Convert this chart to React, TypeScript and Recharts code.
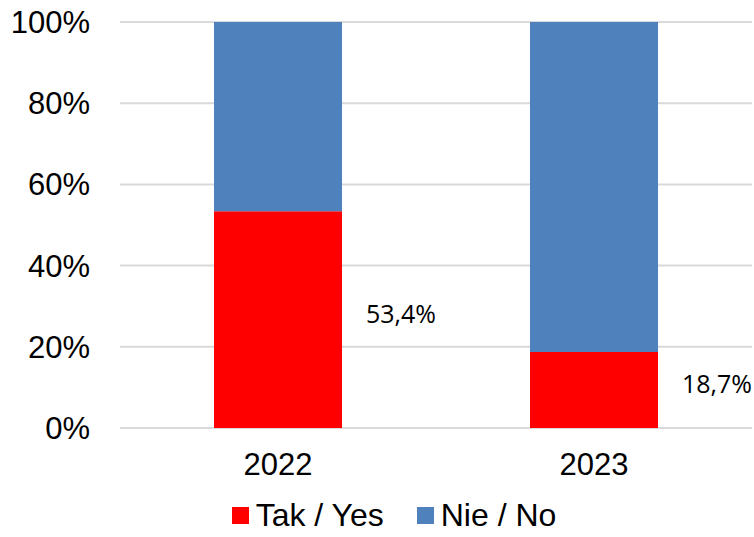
import React from "react";
import {
  BarChart,
  Bar,
  XAxis,
  YAxis,
  CartesianGrid,
  Legend,
  LabelList,
} from "recharts";

document.body.style.margin = "0";

const years = ["2022", "2023"];
const yesShare = [53.4, 18.7];
const noShare = [46.6, 81.3];
const yTicks = [0, 20, 40, 60, 80, 100];

const data = years.map((year, i) => ({
  year,
  yes: yesShare[i],
  no: noShare[i],
}));

const FONT = "'Liberation Sans', Arial, sans-serif";

const SideLabel = (props: any) => {
  const { x, y, width, height, value } = props;
  return (
    <text
      x={x + width + 24}
      y={y + height / 2 - 7}
      fontFamily="'Open Sans', sans-serif"
      fontSize={25}
      fill="#000"
      dominantBaseline="central"
    >
      {String(value.toFixed(1)).replace(".", ",")}%
    </text>
  );
};

const LegendContent = () => (
  <div
    style={{
      display: "flex",
      justifyContent: "center",
      alignItems: "center",
      height: 40,
      paddingTop: 0,
      boxSizing: "border-box",
      fontFamily: FONT,
      fontSize: 32,
      color: "#000",
      paddingLeft: 36,
    }}
  >
    {[
      { name: "Tak / Yes", color: "#FF0000" },
      { name: "Nie / No", color: "#4F81BD" },
    ].map((item, i) => (
      <div
        key={item.name}
        style={{ display: "flex", alignItems: "center", marginLeft: i ? 33 : 0 }}
      >
        <span
          style={{
            width: 17,
            height: 17,
            background: item.color,
            display: "inline-block",
            marginRight: 7,
          }}
        />
        <span>{item.name}</span>
      </div>
    ))}
  </div>
);

export default function App() {
  return (
    <BarChart
      width={754}
      height={537}
      data={data}
      margin={{ top: 22, right: 2, left: 0, bottom: 2 }}
      barSize={128}
    >
      <CartesianGrid vertical={false} stroke="#D9D9D9" strokeWidth={2} />
      <XAxis
        dataKey="year"
        axisLine={false}
        tickLine={false}
        tickMargin={19}
        height={67}
        tick={{ fill: "#000", fontSize: 31, fontFamily: FONT }}
      />
      <YAxis
        domain={[0, 100]}
        ticks={yTicks}
        width={120}
        axisLine={false}
        tickLine={false}
        tickMargin={24}
        tickFormatter={(v) => `${v}%`}
        tick={{ fill: "#000", fontSize: 31, fontFamily: FONT }}
      />
      <Legend verticalAlign="bottom" content={<LegendContent />} />
      <Bar dataKey="yes" stackId="a" fill="#FF0000" isAnimationActive={false}>
        <LabelList dataKey="yes" content={<SideLabel />} />
      </Bar>
      <Bar dataKey="no" stackId="a" fill="#4F81BD" isAnimationActive={false} />
    </BarChart>
  );
}
